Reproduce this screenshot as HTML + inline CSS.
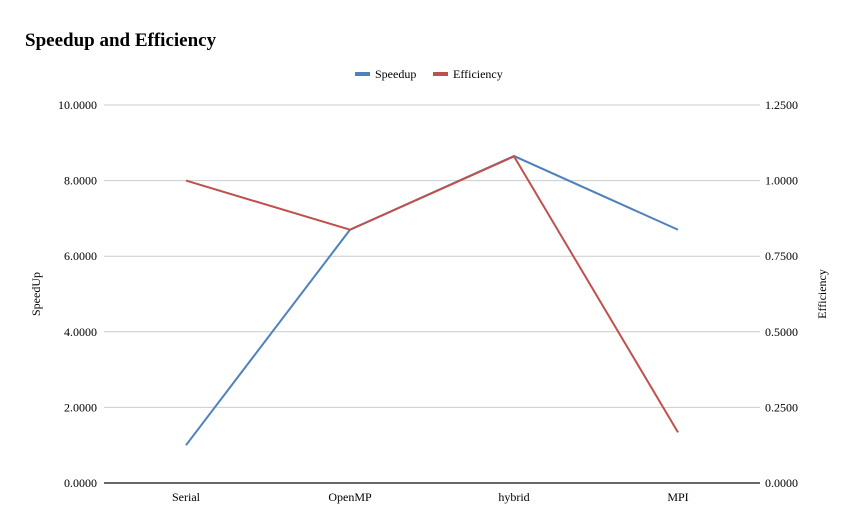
<!DOCTYPE html>
<html><head><meta charset="utf-8"><style>
body{margin:0;background:#fff;}
svg{display:block;font-family:"Liberation Serif",serif;}
</style></head><body>
<svg id="c" width="856" height="530">
<text x="25" y="46" font-size="19" font-weight="bold" fill="#000">Speedup and Efficiency</text>
<g>
<g><rect x="355" y="72" width="15" height="4" fill="#4e81bd"/><text x="375" y="78" font-size="12">Speedup</text></g>
<g><rect x="433" y="72" width="15" height="4" fill="#c0504d"/><text x="453" y="78" font-size="12">Efficiency</text></g>
</g>
<text transform="translate(40,294) rotate(-90)" text-anchor="middle" font-size="12">SpeedUp</text>
<text transform="translate(826,294) rotate(-90)" text-anchor="middle" font-size="12">Efficiency</text>
<g id="g"></g>
</svg>
<script>
const categories=["Serial","OpenMP","hybrid","MPI"];
const speedup=[1.0,6.7,8.65,6.7];
const efficiency=[1.0,0.8375,1.08,0.1675];
const leftTicks=["0.0000","2.0000","4.0000","6.0000","8.0000","10.0000"];
const rightTicks=["0.0000","0.2500","0.5000","0.7500","1.0000","1.2500"];
const L=104,R=760,T=105,B=483,leftMax=10,rightMax=1.25;
const ns="http://www.w3.org/2000/svg",g=document.getElementById('g');
const yL=v=>B-(v/leftMax)*(B-T), yR=v=>B-(v/rightMax)*(B-T);
const bw=(R-L)/categories.length, x=i=>L+bw*(i+0.5);
function mk(t,a){const e=document.createElementNS(ns,t);for(const k in a)e.setAttribute(k,a[k]);g.appendChild(e);return e;}
leftTicks.forEach((t,i)=>{const v=i*leftMax/(leftTicks.length-1),y=yL(v);
 const ln=mk('line',{x1:L,x2:R,y1:y,y2:y,stroke:i==0?'#333':'#ccc','stroke-width':i==0?1.5:1});
 
 
 const tx=mk('text',{x:97,y:y+4,'text-anchor':'end','font-size':12});tx.textContent=t;
 
 });
rightTicks.forEach((t,i)=>{const v=i*rightMax/(rightTicks.length-1),y=yR(v);
 const tx=mk('text',{x:765,y:y+4,'font-size':12});tx.textContent=t;
 
 });
categories.forEach((c,i)=>{const tx=mk('text',{x:x(i),y:501,'text-anchor':'middle','font-size':12});tx.textContent=c;
 
 });
const p1=mk('polyline',{points:speedup.map((v,i)=>x(i)+','+yL(v)).join(' '),fill:'none',stroke:'#4e81bd','stroke-width':2});


const p2=mk('polyline',{points:efficiency.map((v,i)=>x(i)+','+yR(v)).join(' '),fill:'none',stroke:'#c0504d','stroke-width':2});


</script>
</body></html>
